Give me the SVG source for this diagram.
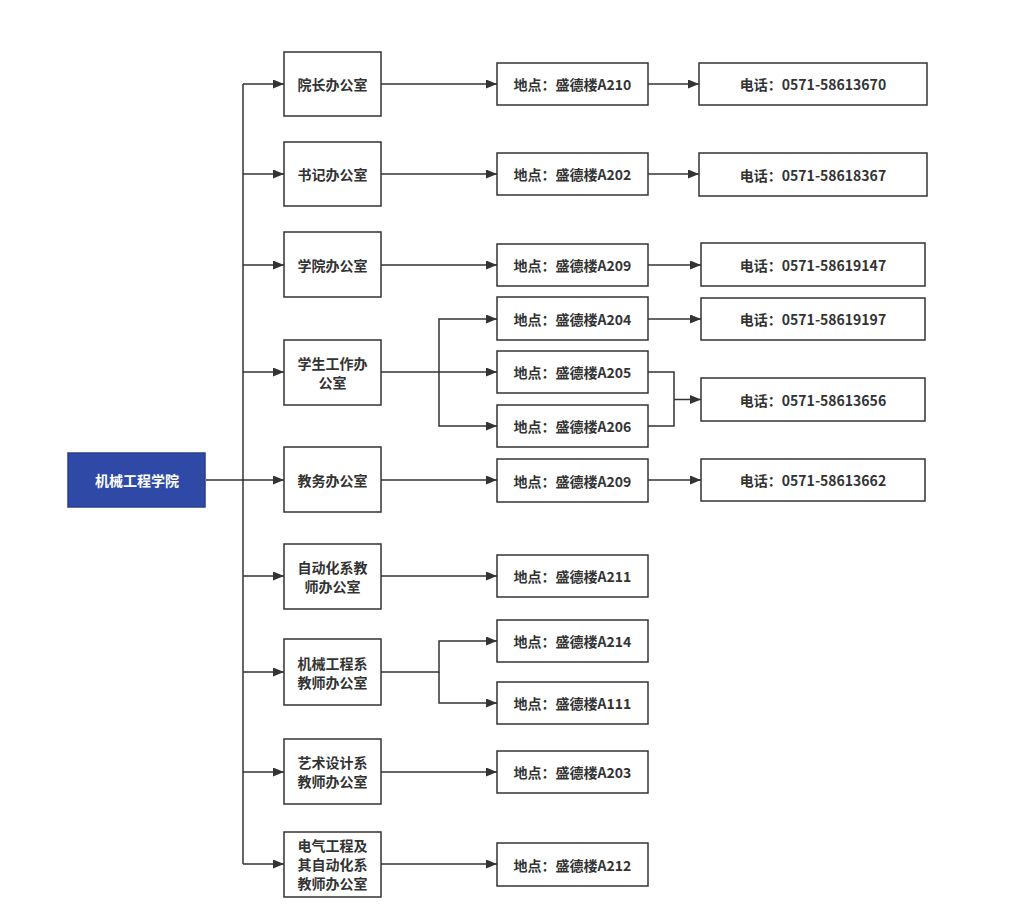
<svg xmlns="http://www.w3.org/2000/svg" width="1024" height="906" viewBox="0 0 1024 906">
<defs>
<marker id="arr" markerUnits="userSpaceOnUse" markerWidth="11" markerHeight="9" refX="11" refY="4.5" orient="auto">
<path d="M0,0 L11,4.5 L0,9 z" fill="#333"/>
</marker>
<style>
.box{fill:#fff;stroke:#333;stroke-width:1.5}
.root{fill:#2e4aa6;stroke:#2a3f8c;stroke-width:1.5}
.t{font-family:"Noto Sans CJK SC","Noto Sans",sans-serif;font-size:14px;font-weight:bold;fill:#333;text-anchor:middle;dominant-baseline:central}
.tw{fill:#fff}
.c{fill:none;stroke:#333;stroke-width:1.5}
.a{marker-end:url(#arr)}
</style>
</defs>
<rect width="1024" height="906" fill="#fff"/>
<g id="connectors">
<path class="c" d="M206,480 H243"/>
<path class="c" d="M243,84 V864"/>
<path class="c a" d="M243,84 H284"/>
<path class="c a" d="M243,174 H284"/>
<path class="c a" d="M243,265 H284"/>
<path class="c a" d="M243,372 H284"/>
<path class="c a" d="M243,480 H284"/>
<path class="c a" d="M243,576 H284"/>
<path class="c a" d="M243,672 H284"/>
<path class="c a" d="M243,772 H284"/>
<path class="c a" d="M243,864 H284"/>
<path class="c a" d="M381,84 H497"/>
<path class="c a" d="M381,174 H497"/>
<path class="c a" d="M381,265 H497"/>
<path class="c a" d="M381,372 H497"/>
<path class="c a" d="M439,372 V319 H497"/>
<path class="c a" d="M439,372 V426 H497"/>
<path class="c a" d="M381,480 H497"/>
<path class="c a" d="M381,576 H497"/>
<path class="c a" d="M381,672 H439 V641 H497"/>
<path class="c a" d="M439,672 V703 H497"/>
<path class="c a" d="M381,772 H497"/>
<path class="c a" d="M381,864 H497"/>
<path class="c a" d="M648,84 H699"/>
<path class="c a" d="M648,174 H699"/>
<path class="c a" d="M648,265 H701"/>
<path class="c a" d="M648,319 H701"/>
<path class="c" d="M648,372 H674 V426 H648"/>
<path class="c a" d="M674,399.5 H701"/>
<path class="c a" d="M648,480 H701"/>
</g>
<g id="root"><rect class="root" x="68" y="453" width="137" height="54"/><text class="t tw" x="137" y="480">机械工程学院</text></g>
<g id="m1"><rect class="box" x="284" y="52" width="97" height="64"/><text class="t" x="332.5" y="84">院长办公室</text></g>
<g id="m2"><rect class="box" x="284" y="142" width="97" height="64"/><text class="t" x="332.5" y="174">书记办公室</text></g>
<g id="m3"><rect class="box" x="284" y="232" width="97" height="65"/><text class="t" x="332.5" y="265">学院办公室</text></g>
<g id="m4"><rect class="box" x="284" y="340" width="97" height="65"/><text class="t" x="332.5" y="363">学生工作办</text><text class="t" x="332.5" y="382">公室</text></g>
<g id="m5"><rect class="box" x="284" y="447" width="97" height="65"/><text class="t" x="332.5" y="480">教务办公室</text></g>
<g id="m6"><rect class="box" x="284" y="544" width="97" height="65"/><text class="t" x="332.5" y="567">自动化系教</text><text class="t" x="332.5" y="586">师办公室</text></g>
<g id="m7"><rect class="box" x="284" y="639" width="97" height="66"/><text class="t" x="332.5" y="662.5">机械工程系</text><text class="t" x="332.5" y="681.5">教师办公室</text></g>
<g id="m8"><rect class="box" x="284" y="739" width="97" height="65"/><text class="t" x="332.5" y="762">艺术设计系</text><text class="t" x="332.5" y="781">教师办公室</text></g>
<g id="m9"><rect class="box" x="284" y="832" width="97" height="65"/><text class="t" x="332.5" y="845">电气工程及</text><text class="t" x="332.5" y="864">其自动化系</text><text class="t" x="332.5" y="883">教师办公室</text></g>
<g id="l1"><rect class="box" x="497" y="63" width="151" height="42"/><text class="t" x="572.5" y="84">地点：盛德楼A210</text></g>
<g id="l2"><rect class="box" x="497" y="153" width="151" height="42"/><text class="t" x="572.5" y="174">地点：盛德楼A202</text></g>
<g id="l3"><rect class="box" x="497" y="244" width="151" height="42"/><text class="t" x="572.5" y="265">地点：盛德楼A209</text></g>
<g id="l4"><rect class="box" x="497" y="297" width="151" height="43"/><text class="t" x="572.5" y="318.5">地点：盛德楼A204</text></g>
<g id="l5"><rect class="box" x="497" y="351" width="151" height="42"/><text class="t" x="572.5" y="372">地点：盛德楼A205</text></g>
<g id="l6"><rect class="box" x="497" y="405" width="151" height="42"/><text class="t" x="572.5" y="426">地点：盛德楼A206</text></g>
<g id="l7"><rect class="box" x="497" y="459" width="151" height="43"/><text class="t" x="572.5" y="480.5">地点：盛德楼A209</text></g>
<g id="l8"><rect class="box" x="497" y="555" width="151" height="42"/><text class="t" x="572.5" y="576">地点：盛德楼A211</text></g>
<g id="l9"><rect class="box" x="497" y="620" width="151" height="42"/><text class="t" x="572.5" y="641">地点：盛德楼A214</text></g>
<g id="l10"><rect class="box" x="497" y="682" width="151" height="42"/><text class="t" x="572.5" y="703">地点：盛德楼A111</text></g>
<g id="l11"><rect class="box" x="497" y="751" width="151" height="42"/><text class="t" x="572.5" y="772">地点：盛德楼A203</text></g>
<g id="l12"><rect class="box" x="497" y="843" width="151" height="43"/><text class="t" x="572.5" y="864.5">地点：盛德楼A212</text></g>
<g id="p1"><rect class="box" x="699" y="63" width="228" height="42"/><text class="t" x="813" y="84">电话：0571-58613670</text></g>
<g id="p2"><rect class="box" x="699" y="153" width="228" height="43"/><text class="t" x="813" y="174.5">电话：0571-58618367</text></g>
<g id="p3"><rect class="box" x="701" y="243" width="224" height="43"/><text class="t" x="813" y="264.5">电话：0571-58619147</text></g>
<g id="p4"><rect class="box" x="701" y="298" width="224" height="42"/><text class="t" x="813" y="319">电话：0571-58619197</text></g>
<g id="p5"><rect class="box" x="701" y="378" width="224" height="43"/><text class="t" x="813" y="399.5">电话：0571-58613656</text></g>
<g id="p6"><rect class="box" x="701" y="459" width="224" height="42"/><text class="t" x="813" y="480">电话：0571-58613662</text></g>
</svg>
